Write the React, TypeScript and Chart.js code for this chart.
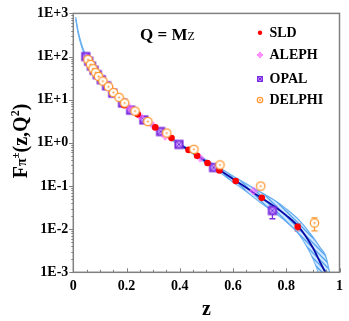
import React, { useEffect, useRef } from 'react';
import { Chart, registerables } from 'chart.js';
Chart.register(...registerables);

// ---- data ----
const sldZ = [0.191, 0.242, 0.308, 0.369, 0.433, 0.465, 0.504, 0.549, 0.61, 0.708, 0.843];
const sldF = [7.43, 4.57, 2.28, 1.29, 0.687, 0.502, 0.341, 0.23, 0.131, 0.0532, 0.0113];
const alephZ = [0.055, 0.075, 0.095, 0.12, 0.135, 0.17, 0.21, 0.25, 0.3, 0.345, 0.477, 0.677];
const alephF = [88, 52, 35, 24, 20, 11.5, 6.6, 4.2, 2.5, 1.43, 0.443, 0.0766];
const opalZ = [0.047, 0.058, 0.068, 0.078, 0.09, 0.105, 0.125, 0.148, 0.185, 0.2155, 0.265, 0.328, 0.397, 0.527, 0.748];
const opalF = [100, 78, 60, 48, 38, 29, 21, 14.2, 8.4, 5.72, 3.4, 1.83, 0.92, 0.268, 0.027];
const delphiZ = [0.055, 0.065, 0.074, 0.084, 0.095, 0.111, 0.132, 0.151, 0.172, 0.193, 0.232, 0.28, 0.351, 0.453, 0.551, 0.704, 0.906];
const delphiF = [85, 65.5, 52.3, 42.5, 34.5, 27, 20, 14.6, 11.3, 8.4, 5.43, 3.12, 1.69, 0.708, 0.308, 0.0995, 0.0139];

const errSeries = ['SLD', 'OPAL', 'DELPHI'];
const errZ = [0.843, 0.748, 0.906];
const errLow = [0.00915, 0.0174, 0.00915];
const errHigh = [0.0134, 0.035, 0.0183];

const fitZ = [0.4, 0.45, 0.5, 0.55, 0.6, 0.65, 0.7, 0.75, 0.8, 0.85, 0.9, 0.93, 0.947];
const fitF = [0.91, 0.59, 0.363, 0.234, 0.145, 0.091, 0.056, 0.0355, 0.0209, 0.0107, 0.0037, 0.00158, 0.001];

const bandZ = [0.009, 0.018, 0.03, 0.045, 0.06, 0.08, 0.1, 0.13, 0.16, 0.2, 0.25, 0.3, 0.35, 0.4, 0.45, 0.5, 0.55, 0.6, 0.65, 0.7, 0.75, 0.8, 0.85, 0.9, 0.93, 0.947, 0.963];
const bandHigh = [822, 394, 202, 114, 78.5, 49.5, 34.3, 21.6, 14.0, 8.04, 4.42, 2.6, 1.57, 0.966, 0.631, 0.398, 0.263, 0.17, 0.112, 0.0741, 0.049, 0.0295, 0.0158, 0.0066, 0.00355, 0.00251, 0.001];
const bandLow = [733, 351, 180, 101, 70, 44.2, 30.5, 19.3, 12.4, 7.16, 3.94, 2.32, 1.4, 0.861, 0.55, 0.331, 0.209, 0.123, 0.0741, 0.0427, 0.0257, 0.0148, 0.00724, 0.00209, 0.000708, 0.000398, 0.00008];

const xTickValues = [0, 0.2, 0.4, 0.6, 0.8, 1];
const xTickLabels = ['0', '0.2', '0.4', '0.6', '0.8', '1'];
const yTickValues = [1e-3, 1e-2, 1e-1, 1, 10, 100, 1000];
const yTickLabels = ['1E-3', '1E-2', '1E-1', '1E+0', '1E+1', '1E+2', '1E+3'];

const legendNames = ['SLD', 'ALEPH', 'OPAL', 'DELPHI'];

// ---- styles ----
const RED = '#ff0000';
const PINK = '#ff66ff';
const PURPLE = '#7b2be0';
const ORANGE = '#ff9933';
const SERIF = '"Liberation Serif", "Times New Roman", serif';

function drawSLD(g: CanvasRenderingContext2D, x: number, y: number, r: number) {
  g.fillStyle = RED;
  g.beginPath();
  g.arc(x, y, r, 0, Math.PI * 2);
  g.fill();
}
function drawAleph(g: CanvasRenderingContext2D, x: number, y: number, s: number) {
  g.strokeStyle = PINK;
  g.lineWidth = 1;
  g.beginPath();
  g.moveTo(x, y - s); g.lineTo(x + s, y); g.lineTo(x, y + s); g.lineTo(x - s, y); g.closePath();
  g.moveTo(x - s - 0.5, y); g.lineTo(x + s + 0.5, y);
  g.moveTo(x, y - s - 0.5); g.lineTo(x, y + s + 0.5);
  g.stroke();
}
function drawOpal(g: CanvasRenderingContext2D, x: number, y: number, s: number) {
  g.fillStyle = PURPLE;
  g.fillRect(x - s, y - s, 2 * s, 2 * s);
  const i = s * 0.55;
  g.fillStyle = '#d2b6ff';
  g.fillRect(x - i, y - i, 2 * i, 2 * i);
  g.strokeStyle = PURPLE;
  g.lineWidth = 1;
  g.beginPath();
  g.moveTo(x - i, y - i); g.lineTo(x + i, y + i);
  g.moveTo(x + i, y - i); g.lineTo(x - i, y + i);
  g.stroke();
}
function drawDelphi(g: CanvasRenderingContext2D, x: number, y: number, r: number) {
  g.fillStyle = '#ffffff';
  g.strokeStyle = ORANGE;
  g.lineWidth = 1.3;
  g.beginPath();
  g.arc(x, y, r, 0, Math.PI * 2);
  g.fill();
  g.stroke();
  g.fillStyle = ORANGE;
  g.beginPath();
  g.arc(x, y, Math.max(0.9, r * 0.25), 0, Math.PI * 2);
  g.fill();
}
function markerImage(fn: (g: CanvasRenderingContext2D, x: number, y: number, s: number) => void, s: number) {
  const size = Math.ceil(2 * s + 4);
  const c = document.createElement('canvas');
  c.width = size; c.height = size;
  const g = c.getContext('2d')!;
  fn(g, size / 2, size / 2, s);
  return c;
}

function drawParts(ctx: CanvasRenderingContext2D, parts: { t: string; f: string; dy: number }[], x: number, y: number, align: 'left' | 'center') {
  let total = 0;
  for (const p of parts) { ctx.font = p.f; total += ctx.measureText(p.t).width; }
  let cx = align === 'center' ? x - total / 2 : x;
  ctx.textAlign = 'left';
  ctx.textBaseline = 'alphabetic';
  for (const p of parts) {
    ctx.font = p.f;
    ctx.fillText(p.t, cx, y + p.dy);
    cx += ctx.measureText(p.t).width;
  }
}

const overlay = {
  id: 'overlay',
  beforeDatasetsDraw(chart: any) {
    const { ctx, scales } = chart;
    const xs = scales.x, ys = scales.y;
    const colors: Record<string, string> = { SLD: RED, OPAL: PURPLE, DELPHI: ORANGE };
    ctx.save();
    for (let i = 0; i < errZ.length; i++) {
      const px = xs.getPixelForValue(errZ[i]);
      const y1 = ys.getPixelForValue(errLow[i]);
      const y2 = ys.getPixelForValue(errHigh[i]);
      ctx.strokeStyle = colors[errSeries[i]];
      ctx.lineWidth = 1.3;
      ctx.beginPath();
      ctx.moveTo(px, y1); ctx.lineTo(px, y2);
      ctx.moveTo(px - 3, y1); ctx.lineTo(px + 3, y1);
      ctx.moveTo(px - 3, y2); ctx.lineTo(px + 3, y2);
      ctx.stroke();
    }
    ctx.restore();
  },
  afterDraw(chart: any) {
    const { ctx, chartArea: a, scales } = chart;
    const xs = scales.x, ys = scales.y;
    ctx.save();
    // frame
    ctx.strokeStyle = '#808080';
    ctx.lineWidth = 1.5;
    ctx.strokeRect(a.left, a.top, a.right - a.left, a.bottom - a.top);
    // y ticks
    ctx.lineWidth = 1;
    ctx.beginPath();
    for (let d = -3; d <= 2; d++) {
      for (let k = 1; k <= 10; k++) {
        const v = k * Math.pow(10, d);
        const py = Math.round(ys.getPixelForValue(v)) + 0.5;
        const len = k === 1 || k === 10 ? 4 : 2;
        ctx.moveTo(a.left - len, py); ctx.lineTo(a.left, py);
      }
    }
    // x ticks
    for (let j = 0; j <= 20; j++) {
      const px = Math.round(xs.getPixelForValue(j * 0.05)) + 0.5;
      const len = j % 4 === 0 ? 4 : 2.5;
      ctx.moveTo(px, a.bottom); ctx.lineTo(px, a.bottom - len);
    }
    ctx.stroke();

    // Q = MZ
    ctx.fillStyle = '#000';
    drawParts(ctx, [
      { t: 'Q = M', f: `bold 17px ${SERIF}`, dy: 0 },
      { t: 'Z', f: `12px ${SERIF}`, dy: 0 },
    ], 140, 40, 'left');

    // legend
    const ly = [32.7, 55, 79, 100];
    drawSLD(ctx, 260, ly[0], 2.2);
    drawAleph(ctx, 260, ly[1], 2.6);
    drawOpal(ctx, 260, ly[2], 3);
    drawDelphi(ctx, 260, ly[3], 2.7);
    ctx.fillStyle = '#000';
    ctx.font = `bold 14px ${SERIF}`;
    ctx.textAlign = 'left';
    ctx.textBaseline = 'middle';
    legendNames.forEach((n, i) => ctx.fillText(n, 269.5, ly[i] + 0.5));

    // x title
    ctx.font = `bold 20px ${SERIF}`;
    ctx.textAlign = 'center';
    ctx.textBaseline = 'alphabetic';
    ctx.fillText('z', (a.left + a.right) / 2, 315);

    // y title
    ctx.save();
    ctx.translate(27, 141);
    ctx.rotate(-Math.PI / 2);
    drawParts(ctx, [
      { t: 'F', f: `bold 20px ${SERIF}`, dy: 0 },
      { t: 'π', f: `bold 14px ${SERIF}`, dy: -1 },
      { t: '±', f: `bold 11px ${SERIF}`, dy: -8 },
      { t: '(z,Q', f: `bold 20px ${SERIF}`, dy: 0 },
      { t: '2', f: `bold 12px ${SERIF}`, dy: -8 },
      { t: ')', f: `bold 20px ${SERIF}`, dy: 0 },
    ], 0, 0, 'center');
    ctx.restore();
    ctx.restore();
  },
};

export default function App() {
  const ref = useRef<HTMLCanvasElement | null>(null);
  useEffect(() => {
    const canvas = ref.current!;
    const ctx = canvas.getContext('2d')!;
    const hc = document.createElement('canvas');
    hc.width = 5; hc.height = 5;
    const hg = hc.getContext('2d')!;
    hg.fillStyle = 'rgba(175,215,255,0.55)';
    hg.fillRect(0, 0, 5, 5);
    hg.strokeStyle = '#55a2ee';
    hg.lineWidth = 1.3;
    hg.beginPath();
    hg.moveTo(0, 0); hg.lineTo(5, 5);
    hg.moveTo(-1, 4); hg.lineTo(1, 6);
    hg.moveTo(4, -1); hg.lineTo(6, 1);
    hg.stroke();
    const hatch = ctx.createPattern(hc, 'repeat');

    const pts = (zs: number[], fs: number[]) => zs.map((z, i) => ({ x: z, y: fs[i] }));
    const marker = { showLine: false, borderWidth: 0 };
    const curve = { pointRadius: 0, cubicInterpolationMode: 'monotone' };
    const chart = new Chart(canvas, {
      type: 'line',
      data: {
        datasets: [
          { ...marker, label: 'DELPHI', data: pts(delphiZ, delphiF), pointStyle: markerImage(drawDelphi, 4.2), order: 0 },
          { ...marker, label: 'SLD', data: pts(sldZ, sldF), pointStyle: 'circle', pointRadius: 3.3, pointBackgroundColor: RED, pointBorderWidth: 0, order: 1 },
          { ...marker, label: 'ALEPH', data: pts(alephZ, alephF), pointStyle: markerImage(drawAleph, 3.6), order: 2 },
          { ...marker, label: 'OPAL', data: pts(opalZ, opalF), pointStyle: markerImage(drawOpal, 4.6), order: 3 },
          { ...curve, label: 'fit', data: pts(fitZ, fitF), borderColor: '#0a0aa8', borderWidth: 1.8, fill: false, order: 4 },
          { ...curve, label: 'bandHigh', data: pts(bandZ, bandHigh), borderColor: '#66aef2', borderWidth: 1.2, fill: '+1', backgroundColor: hatch, order: 5 },
          { ...curve, label: 'bandLow', data: pts(bandZ, bandLow), borderColor: '#66aef2', borderWidth: 1.2, fill: false, order: 6 },
        ] as any,
      },
      options: {
        animation: false,
        responsive: false,
        devicePixelRatio: 1,
        events: [],
        layout: { padding: { top: 8, right: 4.7, left: 0, bottom: 0 } },
        plugins: { legend: { display: false }, tooltip: { enabled: false }, filler: { propagate: false } },
        scales: {
          x: {
            type: 'linear', min: 0, max: 1,
            grid: { display: false, drawTicks: false, tickLength: 0 },
            border: { display: false },
            afterBuildTicks: (s: any) => { s.ticks = xTickValues.map((v) => ({ value: v })); },
            afterFit: (s: any) => { s.height = 48.7; },
            ticks: {
              padding: 6, color: '#000', maxRotation: 0, autoSkip: false,
              font: { family: SERIF, size: 14, weight: 'bold' },
              callback: (_v: any, i: number) => xTickLabels[i],
            },
          },
          y: {
            type: 'logarithmic', min: 1e-3, max: 1e3,
            grid: { display: false, drawTicks: false, tickLength: 0 },
            border: { display: false },
            afterBuildTicks: (s: any) => { s.ticks = yTickValues.map((v) => ({ value: v })); },
            afterFit: (s: any) => { s.width = 73.3; },
            ticks: {
              padding: 5, color: '#000', autoSkip: false,
              font: { family: SERIF, size: 14, weight: 'bold' },
              callback: (_v: any, i: number) => yTickLabels[i],
            },
          },
        },
      } as any,
      plugins: [overlay],
    });
    return () => chart.destroy();
  }, []);
  return (
    <div style={{ position: 'absolute', left: 0, top: 0, width: 349, height: 321 }}>
      <canvas ref={ref} width={349} height={321} style={{ display: 'block', width: 349, height: 321 }} />
    </div>
  );
}
